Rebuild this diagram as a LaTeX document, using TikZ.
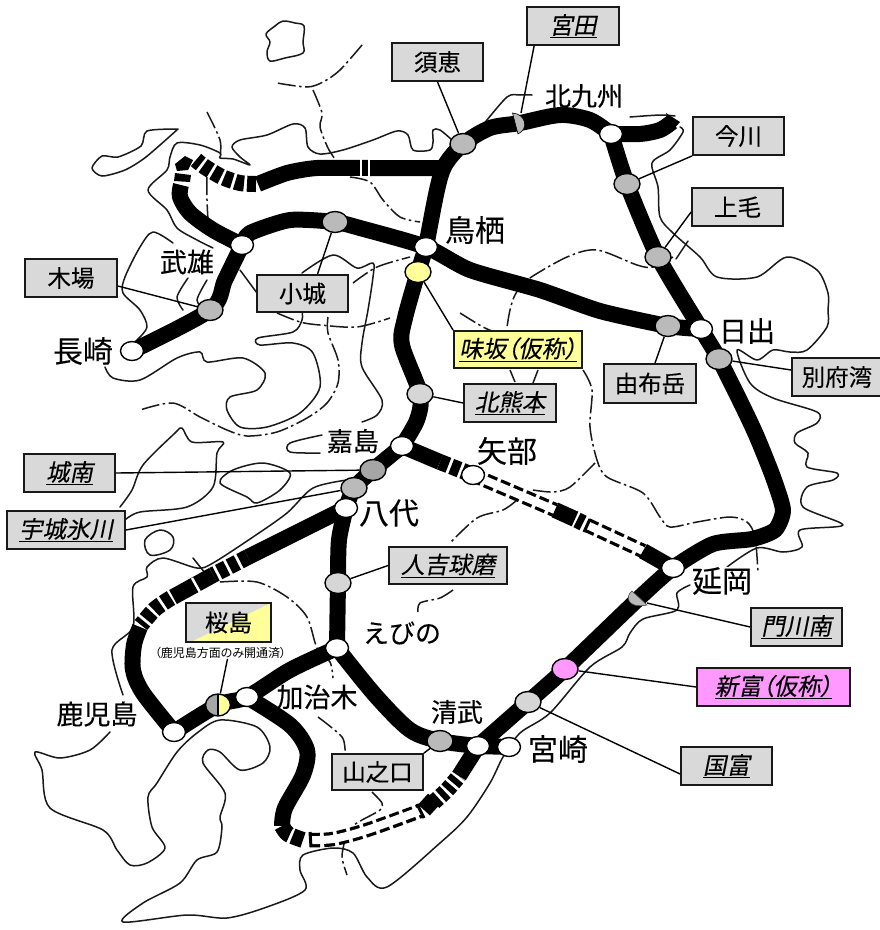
\documentclass[tikz,border=0pt]{standalone}
\usepackage{fontspec}
\usetikzlibrary{shapes.geometric}
\setmainfont[FakeBold=0.2]{Noto Sans CJK JP}
\newfontfamily\jpup[FakeBold=0.2,RawFeature=+palt]{Noto Sans CJK JP}
\newfontfamily\jpsm[RawFeature=+palt]{Noto Sans CJK JP}
\newfontfamily\jpit[FakeSlant=0.2,FakeBold=0.2,RawFeature=+palt]{Noto Sans CJK JP}
\newcommand\ulit[1]{\underline{\jpit #1}}
\definecolor{pyel}{HTML}{FFFF99}
\definecolor{pmag}{HTML}{FF99FF}
\definecolor{pbox}{HTML}{D9D9D9}
\tikzset{
  coast/.style={line width=1.5pt,black!90,line join=round,line cap=round},
  bound/.style={line width=1.5pt,black!90,dash pattern=on 18pt off 3.5pt on 2.5pt off 3.5pt},
  road/.style={line width=16pt,black,line cap=butt,line join=round},
  stripe/.style={road,dash pattern=on 9pt off 3pt},
  tick/.style={white,line width=2.5pt},
  dashedroad/.style={line width=14.5pt,black,line cap=butt,dash pattern=on 10pt off 4pt},
  dashedcore/.style={line width=8pt,white,line cap=butt},
  endcap/.style={line width=3pt,black},
  stn/.style={ellipse,draw=black,line width=1.4pt,minimum width=26pt,minimum height=21pt,inner sep=0pt},
  ic/.style={stn,fill=white,minimum width=23pt,minimum height=19pt},
  gr/.style={stn,fill=black!27},
  lg/.style={stn,fill=black!16},
  box/.style={draw=black!90,line width=1.8pt,fill=pbox,inner sep=0pt,font=\fontsize{23.5}{25}\selectfont\jpup},
  place/.style={fill=white,inner sep=0pt,font=\fontsize{#1}{#1}\selectfont},
  place/.default=27,
  conn/.style={line width=1.4pt,black},
}
\begin{document}
\begin{tikzpicture}[x=1pt,y=-1pt]
\useasboundingbox (0,0) rectangle (880,930);
% station positions
\coordinate (pNagasaki) at (132,351);
\coordinate (pKiba) at (210,310);
\coordinate (pTakeo) at (242,245);
\coordinate (pOgi) at (335,222);
\coordinate (pTosu) at (426,247);
\coordinate (pAji) at (418,272);
\coordinate (pSue) at (463,144);
\coordinate (pMiya) at (520,123);
\coordinate (pKita) at (611,134);
\coordinate (pIma) at (627,184);
\coordinate (pKam) at (658,257);
\coordinate (pYufu) at (668,326);
\coordinate (pHiji) at (701,329);
\coordinate (pBep) at (719,359);
\coordinate (pNob) at (673,568);
\coordinate (pKado) at (637,600);
\coordinate (pShin) at (565,669);
\coordinate (pKuni) at (528,702);
\coordinate (pMiyz) at (509,747);
\coordinate (pKiyoJ) at (478,746);
\coordinate (pKiyo) at (440,741);
\coordinate (pEbi) at (337,648);
\coordinate (pHito) at (338,583);
\coordinate (pYatsu) at (346,508);
\coordinate (pUki) at (354,488);
\coordinate (pJon) at (373,470);
\coordinate (pKash) at (402,446);
\coordinate (pYabe) at (473,475);
\coordinate (pKkum) at (420,394);
\coordinate (pKaji) at (247,697);
\coordinate (pSaku) at (218,705);
\coordinate (pKago) at (174,732);

% coast lines
\draw[coast] plot[smooth cycle,tension=.55] coordinates {(283,21)(295,23)(304,26)(303,42)(303,53)(285,58)(270,61)(267,52)(270,42)(266,34)(275,26)};
\draw[coast] plot[smooth,tension=.45] coordinates {(178,129)(147,131)(141,146)(118,157)(102,156)(92,168)(102,176)(125,170)(146,157)(178,129)};
\draw[coast] plot[smooth,tension=.5] coordinates {(452,140)(440,130)(433,130)(433,142)(430,150)(413,150)(408,135)(397,131)(373,140)(343,150)(320,154)(308,147)(305,128)(293,124)(267,135)(240,140)(232,147)(240,157)(250,165)(233,159)(220,158)(220,153)(200,145)(177,143)(170,157)(167,170)(148,190)(167,210)(177,228)(197,240)(213,248)};
\draw[coast] plot[smooth,tension=.5] coordinates {(483,125)(507,97)(520,95)(532,95)};
\draw[coast] plot[smooth,tension=.5] coordinates {(630,117)(660,115)(675,116)};
\draw[coast] plot[smooth,tension=.5] coordinates {(680,127)(683,132)(670,150)(652,163)(658,187)(660,217)(673,233)(700,257)(717,277)(757,277)(787,257)(817,270)(828,293)(828,310)(827,327)(807,350)(790,352)(773,350)(757,360)(737,350)(750,383)(773,398)(817,412)(817,423)(797,433)(795,443)(808,453)(807,467)(837,473)(833,480)(807,487)(803,507)(843,525)(800,530)(802,547)(783,552)(757,548)(727,567)};
\draw[coast] plot[smooth,tension=.5] coordinates {(690,585)(677,593)(677,610)(643,619)(630,633)(622,647)(590,667)(550,713)(520,733)(503,757)(490,783)(467,817)(440,843)(387,887)(367,877)(353,853)(333,848)(303,855)(300,870)(305,890)(267,907)(227,918)(187,915)(123,922)(143,903)(180,883)(197,860)(217,852)(222,827)(220,817)(225,793)(203,763)(208,750)(220,752)(240,770)(263,763)(270,747)(257,727)(220,720)(197,733)(177,752)(157,783)(148,797)(152,827)(165,848)(147,863)(130,865)(117,850)(103,830)(50,808)(42,770)(35,752)(60,758)(90,750)(110,732)};
\draw[coast] plot[smooth,tension=.5] coordinates {(123,695)(112,650)(133,627)(133,587)(147,577)(147,567)(163,558)(197,568)(213,563)(253,537)(287,513)(313,488)(347,480)};
\draw[coast] plot[smooth cycle,tension=.6] coordinates {(160,530)(173,537)(170,550)(150,555)(145,540)};
\draw[coast] plot[smooth,tension=.5] coordinates {(125,520)(140,512)(187,507)(213,487)(217,453)(223,442)(192,442)(182,428)(175,433)(143,465)(132,490)(120,507)};
\draw[coast] plot[smooth cycle,tension=.5] coordinates {(220,483)(233,470)(263,463)(290,473)(280,490)(257,503)(247,497)};
\draw[coast] plot[smooth,tension=.5] coordinates {(105,367)(113,378)(140,380)(177,358)(200,352)(207,362)(243,358)(265,373)(257,390)(230,397)(227,410)(240,427)(267,427)(300,413)(320,387)(313,353)(293,343)(260,345)(258,338)(293,332)(302,320)(302,310)};
\draw[coast] plot[smooth,tension=.5] coordinates {(302,273)(333,255)(357,268)(373,263)(373,277)(368,310)(362,343)(362,367)(382,400)(377,415)(362,422)};
\draw[coast] plot[smooth,tension=.5] coordinates {(322,435)(290,443)(290,452)(320,453)};
\draw[coast] plot[smooth,tension=.5] coordinates {(173,243)(153,232)(140,247)(125,277)(123,293)(140,310)(147,327)(137,340)};
\draw[coast] plot[smooth,tension=.5] coordinates {(188,278)(177,297)(183,310)};
\draw[coast] plot[smooth,tension=.5] coordinates {(207,280)(197,300)(205,310)};
\draw[coast] (240,270) -- (257,293);
\draw[coast] (193,558) -- (213,583);
\draw[coast] (688,241) -- (676,259);

% prefectural boundaries
\draw[bound] plot[smooth,tension=.5] coordinates {(362,45)(340,70)(323,82)(307,87)(277,83)};
\draw[bound] plot[smooth,tension=.5] coordinates {(313,90)(322,113)(320,127)(328,148)(337,162)};
\draw[bound] plot[smooth,tension=.5] coordinates {(207,112)(220,140)(220,157)};
\draw[bound] plot[smooth,tension=.5] coordinates {(207,177)(207,200)(208,220)};
\draw[bound] plot[smooth,tension=.5] coordinates {(350,177)(370,182)(383,200)(400,217)(420,222)};
\draw[bound] plot[smooth,tension=.5] coordinates {(353,283)(377,267)(410,257)};
\draw[bound] plot[smooth,tension=.5] coordinates {(277,313)(300,322)(320,325)(357,327)(390,318)};
\draw[bound] plot[smooth,tension=.5] coordinates {(328,317)(328,333)(338,360)(338,383)(327,403)(307,418)(277,432)(247,436)(227,430)(200,417)(173,403)(140,410)};
\draw[bound] plot[smooth,tension=.5] coordinates {(673,257)(653,267)(637,265)(597,250)(567,257)(527,280)(515,295)(510,310)(507,327)};
\draw[bound] plot[smooth,tension=.5] coordinates {(460,313)(483,327)(497,333)};
\draw[bound] plot[smooth,tension=.5] coordinates {(510,370)(515,382)};
\draw[bound] plot[smooth,tension=.5] coordinates {(538,370)(533,383)};
\draw[bound] plot[smooth,tension=.5] coordinates {(583,370)(592,390)(590,427)(597,460)(607,477)(643,493)(660,517)(670,527)(697,522)(730,517)(747,522)(755,537)(758,573)};
\draw[bound] plot[smooth,tension=.5] coordinates {(595,463)(570,487)(553,492)(533,490)};
\draw[bound] plot[smooth,tension=.5] coordinates {(517,500)(503,510)(477,518)(450,543)};
\draw[bound] plot[smooth,tension=.5] coordinates {(453,590)(440,598)(420,603)(418,613)};
\draw[bound] plot[smooth,tension=.5] coordinates {(220,582)(257,582)(287,597)(307,617)(317,648)(330,662)(333,678)};
\draw[bound] plot[smooth,tension=.5] coordinates {(318,717)(342,737)(345,753)};
\draw[bound] plot[smooth,tension=.5] coordinates {(372,792)(382,803)(380,810)(362,820)(352,826)};
\draw[bound] plot[smooth,tension=.5] coordinates {(345,840)(342,857)(347,875)};

% place names
\node[place=27] (nTakeo) at (187,262) {武雄};
\node[place=26] (nKita) at (584,96) {北九州};
\node[place=30] (nTosu) at (475,230) {鳥栖};
\node[place=28] (nHiji) at (747,331) {日出};
\node[place=30] (nNaga) at (83,351) {長崎};
\node[place=26] (nKash) at (353,441) {嘉島};
\node[place=30] (nYabe) at (507,451) {矢部};
\node[place=30] (nYatsu) at (389,513) {八代};
\node[place=30] (nNob) at (722,581) {延岡};
\node[place=26] (nEbi) at (402,633) {えびの};
\node[place=27] (nKago) at (97,714) {鹿児島};
\node[place=27] (nKaji) at (317,697) {加治木};
\node[place=26] (nKiyo) at (457,712) {清武};
\node[place=30] (nMiyz) at (558,749) {宮崎};

% expressways
\draw[road] plot[smooth,tension=.5] coordinates {(pNagasaki)(pKiba)(225,280)(pTakeo)};
\draw[road] plot[smooth,tension=.4] coordinates {(pTakeo)(250,233)(290,220)(pOgi)(360,228)(pTosu)(470,270)(540,290)(600,311)(pYufu)(pHiji)};
\draw[road] plot[smooth,tension=.5] coordinates {(pAji)(405,318)(402,345)(pKkum)(417,420)(pKash)};
\draw[road] (pTosu) -- (pAji);
\draw[road] plot[smooth,tension=.4] coordinates {(pKash)(pJon)(pUki)(pYatsu)};
\draw[road] plot[smooth,tension=.5] coordinates {(pYatsu)(339,540)(pHito)(pEbi)};
\draw[road] plot[smooth,tension=.5] coordinates {(pTosu)(437,190)(445,165)(pSue)(490,128)(pMiya)(560,115)(590,120)(pKita)};
\draw[road] plot[smooth,tension=.5] coordinates {(pKita)(640,134)(660,130)(672,122)};
\fill[black] (666,113) -- (680,122) -- (672,131) -- cycle;
\draw[road] plot[smooth,tension=.4] coordinates {(pKita)(pIma)(pKam)(pHiji)(pBep)(743,407)(757,437)(773,477)(783,510)(775,530)(752,539)(713,544)(pNob)(pKado)(pShin)(pKuni)(pKiyoJ)};
\draw[road] (pKiyoJ) -- (pMiyz);
\draw[road] plot[smooth,tension=.5] coordinates {(pEbi)(375,695)(410,730)(pKiyo)(pKiyoJ)};
\draw[road] plot[smooth,tension=.5] coordinates {(pEbi)(290,670)(pKaji)(pSaku)(pKago)};
\draw[road] plot[smooth,tension=.5] coordinates {(pKaji)(290,725)(307,750)(303,775)(285,808)(282,826)};
% Saga-Tosu road with striped section
\draw[road] plot[smooth,tension=.4] coordinates {(441,168)(372,168)(317,168)(287,173)(258,184)};
\draw[tick] (361,159) -- (361,177) (369,159) -- (369,177);
\draw[stripe] plot[smooth,tension=.5] coordinates {(256,184)(240,183)(222,177)(205,167)(196,160)};
\fill[black] (175,164) -- (185,156) -- (193,160) -- (188,170) -- (177,171) -- cycle;
\fill[black] (175,173) -- (191,175) -- (190,182) -- (174,181) -- cycle;
\draw[road] plot[smooth,tension=.5] coordinates {(181,185)(180,197)(190,213)(213,230)(pTakeo)};
% Yatsushiro - Kagoshima
\draw[road] plot[smooth,tension=.4] coordinates {(pYatsu)(248,557)};
\draw[stripe] (248,557) -- (213,575);
\draw[road] plot[smooth,tension=.4] coordinates {(213,575)(173,597)};
\draw[tick] (192,578) -- (201,594);
\draw[stripe] plot[smooth,tension=.5] coordinates {(171,598)(155,609)(141,625)};
\draw[road] plot[smooth,tension=.5] coordinates {(140,627)(134,645)(133,670)(143,693)(pKago)};
% Kashima - Yabe - Nobeoka
\draw[road] (pKash) -- (440,462);
\draw[stripe] (440,462) -- (pYabe);
\draw[dashedroad] (pYabe) -- (555,510);
\draw[dashedcore] (pYabe) -- (555,510);
\draw[road] (555,510) -- (575,519);
\draw[road] (577,520) -- (583,523);
\draw[dashedroad] (587,525) -- (643,551);
\draw[dashedcore] (587,525) -- (643,551);
\draw[endcap] (590,519) -- (584,532);
\draw[road] (643,551) -- (pNob);
% Kagoshima-south striped and double dashed
\draw[stripe,dash pattern=on 12pt off 3pt] plot[smooth,tension=.5] coordinates {(282,826)(288,834)(303,840)};
\draw[dashedroad] plot[smooth,tension=.5] coordinates {(310,840)(333,839)(367,830)(420,811)};
\draw[dashedcore] plot[smooth,tension=.5] coordinates {(308,840)(333,839)(367,830)(422,810)};
\draw[endcap] (310,832) -- (311,847);
\draw[endcap] (417,804) -- (424,818);
\draw[road] (424,810) -- (434,799);
\draw[stripe,dash pattern=on 6pt off 3pt] plot[smooth,tension=.5] coordinates {(434,802)(447,790)(459,776)};
\draw[road] (459,776) -- (pKiyoJ);

% half stations
\fill[black!27,draw=black,line width=.6pt] (512.5,113) .. controls (526,114) and (529,129) .. (518,134) -- cycle;
\coordinate (stMiya) at (521,113);
\fill[black!27,draw=black!70,line width=.6pt] (632,591) .. controls (625,596) and (627,609) .. (647,605) -- cycle;
\coordinate (stKado) at (647,603);

% stations
\node[ic] (stNagasaki) at (pNagasaki) {};
\node[gr] (stKiba) at (pKiba) {};
\node[ic] (stTakeo) at (pTakeo) {};
\node[gr] (stOgi) at (pOgi) {};
\node[ic] (stTosu) at (pTosu) {};
\node[stn,fill=pyel] (stAji) at (pAji) {};
\node[gr] (stSue) at (pSue) {};
\node[ic] (stKita) at (pKita) {};
\node[gr] (stIma) at (pIma) {};
\node[gr] (stKam) at (pKam) {};
\node[gr] (stYufu) at (pYufu) {};
\node[ic] (stHiji) at (pHiji) {};
\node[gr] (stBep) at (pBep) {};
\node[ic] (stNob) at (pNob) {};
\node[stn,fill=pmag] (stShin) at (pShin) {};
\node[lg] (stKuni) at (pKuni) {};
\node[ic] (stMiyz) at (pMiyz) {};
\node[ic] (stKiyoJ) at (pKiyoJ) {};
\node[gr] (stKiyo) at (pKiyo) {};
\node[ic] (stEbi) at (pEbi) {};
\node[lg] (stHito) at (pHito) {};
\node[ic] (stYatsu) at (pYatsu) {};
\node[gr] (stUki) at (pUki) {};
\node[stn,fill=black!35] (stJon) at (pJon) {};
\node[ic] (stKash) at (pKash) {};
\node[ic] (stYabe) at (pYabe) {};
\node[lg] (stKkum) at (pKkum) {};
\node[ic] (stKaji) at (pKaji) {};
\node[ic] (stKago) at (pKago) {};
\node[stn,fill=black!35,minimum width=25pt,minimum height=22pt,path picture={
  \fill[pyel] (path picture bounding box.south) rectangle (path picture bounding box.north east);
  \draw[line width=1.4pt] (path picture bounding box.south) -- (path picture bounding box.north);}] (stSaku) at (pSaku) {};

% label boxes
\node[box,minimum width=92pt,minimum height=38pt] (bKiba) at (71,278) {木場};
\node[box,minimum width=91pt,minimum height=38pt] (bSue) at (437.5,62) {須恵};
\node[box,minimum width=92pt,minimum height=38pt] (bMiya) at (573,26) {\ulit{宮田}};
\node[box,minimum width=91pt,minimum height=38pt] (bIma) at (738.5,136) {今川};
\node[box,minimum width=91pt,minimum height=38pt] (bKam) at (737.5,207) {上毛};
\node[box,minimum width=91pt,minimum height=37pt] (bOgi) at (302.5,293.5) {小城};
\node[box,fill=pyel,minimum width=128pt,minimum height=37pt] (bAji) at (518,349.5) {\ulit{味坂（仮称）}};
\node[box,minimum width=92pt,minimum height=38pt] (bKkum) at (510,403) {\ulit{北熊本}};
\node[box,minimum width=92pt,minimum height=39pt] (bYufu) at (650,383.5) {由布岳};
\node[box,minimum width=90pt,minimum height=38pt] (bBep) at (837,377) {別府湾};
\node[box,minimum width=91pt,minimum height=38pt] (bJon) at (69.5,473) {\ulit{城南}};
\node[box,minimum width=118pt,minimum height=38pt] (bUki) at (66,530) {\ulit{宇城氷川}};
\node[box,minimum width=118pt,minimum height=37pt] (bHito) at (448,565.5) {\ulit{人吉球磨}};
\node[box,minimum width=91pt,minimum height=38pt] (bKado) at (796.5,627) {\ulit{門川南}};
\node[box,fill=pmag,minimum width=153pt,minimum height=38pt] (bShin) at (773.5,687) {\ulit{新富（仮称）}};
\node[box,minimum width=91pt,minimum height=38pt] (bKuni) at (726.5,766) {\ulit{国富}};
\node[box,minimum width=91pt,minimum height=36pt] (bKiyo) at (377.5,772) {山之口};
\node[box,minimum width=85pt,minimum height=39pt,path picture={
  \fill[pyel] ([xshift=5pt]path picture bounding box.south west) -- (path picture bounding box.north east) -- (path picture bounding box.south east) -- cycle;}] (bSaku) at (228.5,622.5) {桜島};
\node[inner sep=0pt,font=\fontsize{12}{13}\selectfont\jpsm] (cSaku) at (220.5,653) {（鹿児島方面のみ開通済）};

% connectors
\draw[conn] (bKiba.east) ++(0,8) -- (stKiba);
\draw[conn] ([xshift=15pt]bOgi.north) -- (stOgi);
\draw[conn] (bSue.south) -- (stSue);
\draw[conn] ([xshift=8pt]bMiya.south west) -- (stMiya);
\draw[conn] (bIma.south west) -- (stIma);
\draw[conn] ([yshift=-5pt]bKam.west) -- (stKam);
\draw[conn] (bAji.north west) -- (stAji);
\draw[conn] (bKkum.west) -- (stKkum);
\draw[conn] ([xshift=5pt]bYufu.north) -- (stYufu);
\draw[conn] ([yshift=7pt]bBep.west) -- (stBep);
\draw[conn] (bJon.east) -- (stJon);
\draw[conn] (bUki.east) -- (stUki);
\draw[conn] (bHito.west) -- (stHito);
\draw[conn] ([xshift=7pt]cSaku.south) -- (stSaku);
\draw[conn] (bKado.west) -- (stKado);
\draw[conn] (bShin.west) -- (stShin);
\draw[conn] ([yshift=-8pt]bKuni.west) -- (stKuni);
\draw[conn] (bKiyo.north east) -- (stKiyo);
\end{tikzpicture}
\end{document}
